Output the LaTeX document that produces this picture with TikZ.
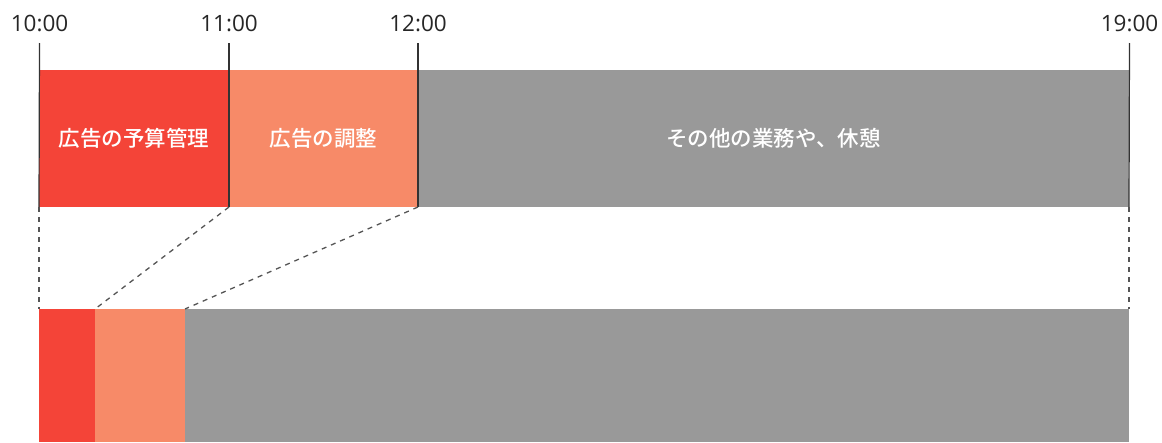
\documentclass[tikz,border=0pt]{standalone}
\usepackage{fontspec}
\setmainfont{Open Sans}
\newfontfamily\cjk{Noto Sans CJK JP}[UprightFont=* Medium]
\definecolor{cred}{HTML}{F44438}
\definecolor{corange}{HTML}{F78A68}
\definecolor{cgray}{HTML}{999999}
\definecolor{cline}{HTML}{333333}
\definecolor{cdash}{HTML}{555555}
\begin{document}
\begin{tikzpicture}[x=1pt,y=-1pt,
  seg/.style={draw=none,inner sep=0pt,outer sep=0pt,anchor=north west,minimum height=137pt,
    font=\cjk\fontsize{21.5}{25}\selectfont,text=white},
  lowseg/.style={draw=none,inner sep=0pt,outer sep=0pt,anchor=north west,minimum height=133pt},
  tick/.style={draw=cline,line width=1.2pt},
  tlabel/.style={font=\fontsize{22.5}{26}\selectfont,text=black!85,anchor=base},
  zoomline/.style={draw=cdash,line width=1.3pt,dash pattern=on 5pt off 5pt}]
\useasboundingbox (0,0) rectangle (1162,442);
% top bar
\node[seg,fill=cred,minimum width=190pt] (a) at (39,70) {広告の予算管理};
\node[seg,fill=corange,minimum width=189pt] (b) at (229,70) {広告の調整};
\node[seg,fill=cgray,minimum width=711pt] (c) at (418,70) {その他の業務や、休憩};
% bottom bar
\node[lowseg,fill=cred,minimum width=56pt] (la) at (39,309) {};
\node[lowseg,fill=corange,minimum width=90pt] (lb) at (95,309) {};
\node[lowseg,fill=cgray,minimum width=944pt] (lc) at (185,309) {};
% tick tops
\coordinate (t0) at (39.5,43);
\coordinate (t1) at (229,43);
\coordinate (t2) at (418,43);
\coordinate (t3) at (1129.5,43);
\draw[tick] (t0) -- (a.south west);
\draw[tick] (t1) -- (a.south east);
\draw[tick] (t2) -- (b.south east);
\draw[tick] (t3) -- (c.south east);
\node[tlabel] (l0) at (39.5,31) {10:00};
\node[tlabel] (l1) at (229,31) {11:00};
\node[tlabel] (l2) at (418,31) {12:00};
\node[tlabel] (l3) at (1129.5,31) {19:00};
% zoom connectors
\draw[zoomline] (a.south west) -- (la.north west);
\draw[zoomline] (a.south east) -- (la.north east);
\draw[zoomline] (b.south east) -- (lb.north east);
\draw[zoomline] (c.south east) -- (lc.north east);
\end{tikzpicture}
\end{document}
